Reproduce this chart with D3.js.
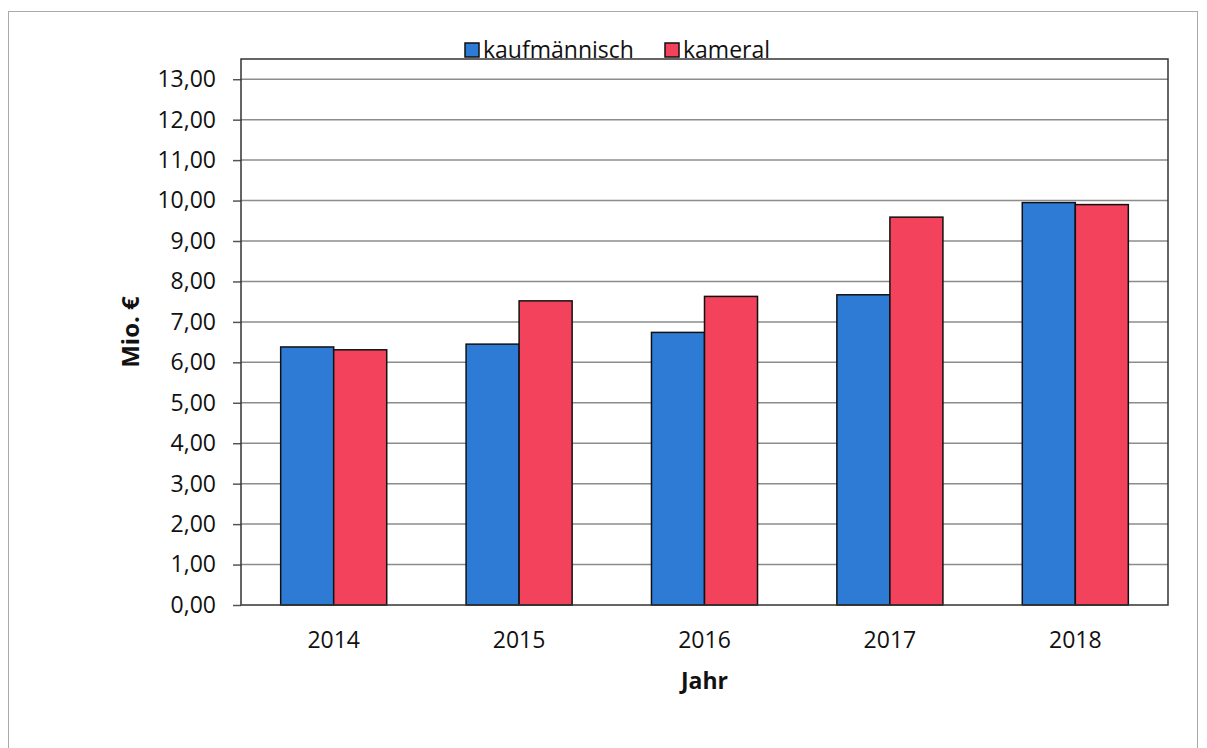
<!DOCTYPE html>
<html>
<head>
<meta charset="utf-8">
<script src="https://cdn.jsdelivr.net/npm/d3@7"></script>
<style>
  body { margin: 0; background: #fff; }
  text { font-family: "Open Sans", sans-serif; fill: #111; }
</style>
</head>
<body>
<div id="chart"></div>
<script>
const years = ['2014', '2015', '2016', '2017', '2018'];
const seriesNames = ['kaufmännisch', 'kameral'];
const kaufmaennisch = [6.38, 6.45, 6.74, 7.67, 9.95];
const kameral = [6.31, 7.52, 7.63, 9.59, 9.90];
const yTicks = [0, 1, 2, 3, 4, 5, 6, 7, 8, 9, 10, 11, 12, 13];
const colors = ['#2e7bd6', '#f2425c'];

const w = 1207;
const h = 748;
const margin = { top: 59, right: 39, bottom: 143, left: 241 };
const innerW = w - margin.left - margin.right;
const innerH = h - margin.top - margin.bottom;

const svg = d3.select('#chart').append('svg').attr('width', w).attr('height', h);

// outer page frame
svg.append('rect')
    .attr('x', 8.5).attr('y', 11.5)
    .attr('width', 1189).attr('height', 780)
    .attr('fill', 'none').attr('stroke', '#aaa').attr('stroke-width', 1);

const g = svg.append('g').attr('transform', `translate(${margin.left},${margin.top})`);

const xScale = d3.scaleBand().domain(years).range([0, innerW]).padding(0);
const yScale = d3.scaleLinear().domain([0, 13.5]).range([innerH, 0]);

const bw = xScale.bandwidth() * 0.286;
const x1 = d3.scaleBand().domain(seriesNames)
    .range([xScale.bandwidth() / 2 - bw, xScale.bandwidth() / 2 + bw]);

// gridlines
g.selectAll('.grid')
    .data(yTicks.filter(d => d > 0))
    .enter()
    .append('line')
    .attr('x1', 0).attr('x2', innerW)
    .attr('y1', d => yScale(d)).attr('y2', d => yScale(d))
    .attr('stroke', '#8c8c8c').attr('stroke-width', 1.5);

// y axis
const yAxis = d3.axisLeft(yScale)
    .tickValues(yTicks)
    .tickSize(8)
    .tickPadding(17)
    .tickFormat(d => d3.format('.2f')(d).replace('.', ','));

const yG = g.append('g').call(yAxis);
yG.select('.domain').remove();
yG.selectAll('line').attr('stroke', '#555').attr('stroke-width', 1.5);
yG.selectAll('text').attr('font-size', 23).attr('font-family', '"Open Sans", sans-serif').attr('fill', '#111');

// bars
const rows = years.map((y, i) => ({ year: y, values: [kaufmaennisch[i], kameral[i]] }));

const groups = g.selectAll('.grp')
    .data(rows)
    .enter()
    .append('g')
    .attr('transform', d => `translate(${xScale(d.year)},0)`);

groups.selectAll('rect')
    .data(d => d.values.map((v, i) => ({ key: seriesNames[i], value: v, i: i })))
    .enter()
    .append('rect')
    .attr('x', d => x1(d.key))
    .attr('y', d => yScale(d.value))
    .attr('width', x1.bandwidth())
    .attr('height', d => innerH - yScale(d.value))
    .attr('fill', d => colors[d.i])
    .attr('stroke', '#111')
    .attr('stroke-width', 1.5);

// plot frame
g.append('rect')
    .attr('x', 0).attr('y', 0)
    .attr('width', innerW).attr('height', innerH)
    .attr('fill', 'none').attr('stroke', '#333').attr('stroke-width', 1.5);

// x labels
const xAxis = d3.axisBottom(xScale).tickSize(0).tickPadding(27);
const xG = g.append('g').attr('transform', `translate(0,${innerH})`).call(xAxis);
xG.select('.domain').remove();
xG.selectAll('text').attr('font-size', 23).attr('font-family', '"Open Sans", sans-serif').attr('fill', '#111');

// axis titles
svg.append('text')
    .attr('x', margin.left + innerW / 2)
    .attr('y', 689)
    .attr('text-anchor', 'middle')
    .attr('font-size', 23)
    .attr('font-weight', 'bold')
    .text('Jahr');

svg.append('text')
    .attr('transform', 'translate(139,332) rotate(-90)')
    .attr('text-anchor', 'middle')
    .attr('font-size', 24)
    .attr('font-weight', 'bold')
    .text('Mio. €');

// legend
const legendX = [465, 665];
const legend = svg.selectAll('.legend')
    .data(seriesNames)
    .enter()
    .append('g')
    .attr('transform', (d, i) => `translate(${legendX[i]},43)`);

legend.append('rect')
    .attr('width', 14).attr('height', 14)
    .attr('fill', (d, i) => colors[i])
    .attr('stroke', '#111').attr('stroke-width', 1.5);

legend.append('text')
    .attr('x', 18).attr('y', 15)
    .attr('font-size', 23)
    .text(d => d);
</script>
</body>
</html>
